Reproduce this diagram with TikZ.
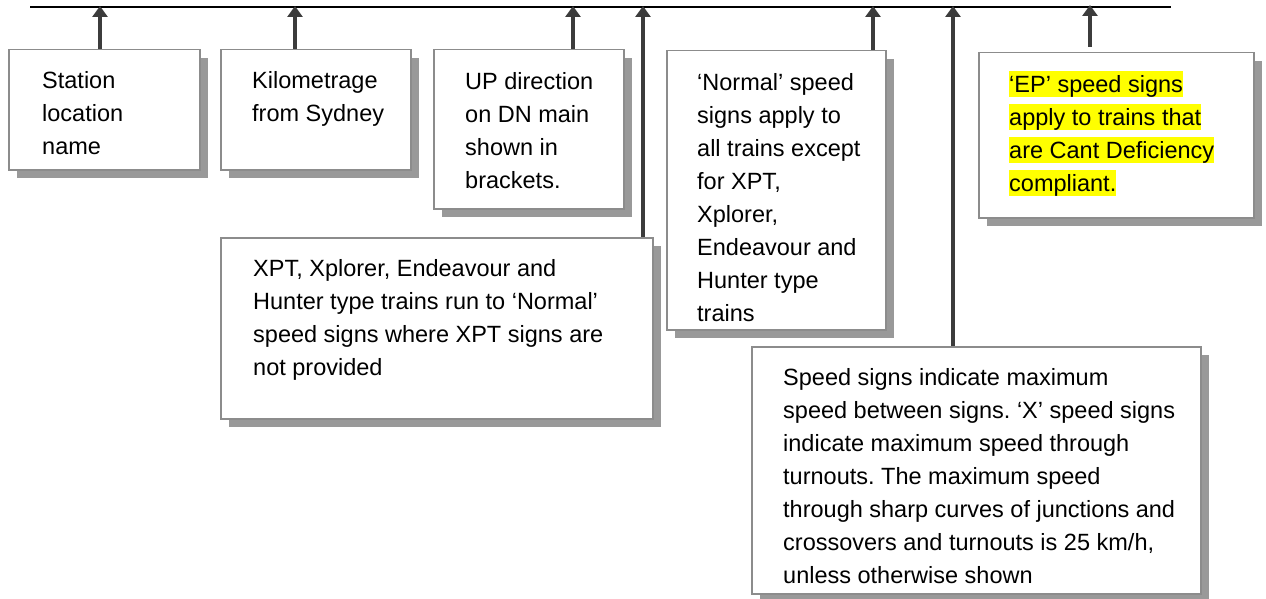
\documentclass[tikz,border=0pt]{standalone}
\usepackage{fontspec}
\setmainfont{Liberation Sans}
\usetikzlibrary{arrows.meta,shadows}
\definecolor{boxline}{HTML}{8C8C8C}
\definecolor{shadowgray}{HTML}{999999}
\definecolor{arrowgray}{HTML}{3C3C3C}
\definecolor{hlyellow}{HTML}{FFFF00}
\newcommand\firstl{\rule{0pt}{21.5pt}}
\newcommand\hlline[1]{{\setlength{\fboxsep}{0pt}\colorbox{hlyellow}{\rule[-5pt]{0pt}{26.5pt}#1}}}
\frenchspacing
\begin{document}
\begin{tikzpicture}[x=1pt,y=-1pt,
  box/.style={draw=boxline, line width=1.5pt, fill=white, rectangle, inner sep=0pt, anchor=north west,
    drop shadow={shadow xshift=8pt, shadow yshift=-8pt, fill=shadowgray, opacity=1}},
  txt/.style={anchor=north west, inner sep=0pt, align=left, font=\fontsize{23.5}{33}\selectfont\frenchspacing},
  arr/.style={draw=arrowgray, line width=4pt, -{Triangle[width=15pt,length=11pt]}},
  rail/.style={draw=black, line width=2pt}]
\useasboundingbox (0,0) rectangle (1266,599);
% boxes
\node[box, minimum width=191pt, minimum height=120pt] (b1) at (8,49) {};
\node[box, minimum width=190pt, minimum height=120pt] (b2) at (220,49) {};
\node[box, minimum width=190pt, minimum height=159pt] (b3) at (433,49) {};
\node[box, minimum width=219pt, minimum height=279pt] (b4) at (666,50) {};
\node[box, minimum width=275pt, minimum height=165pt] (b5) at (978,52) {};
\node[box, minimum width=432pt, minimum height=181pt] (b6) at (220,237) {};
\node[box, minimum width=449pt, minimum height=247pt] (b7) at (751,346) {};
% texts
\node[txt] (tx1) at (42,66.5) {\firstl Station\\location\\name};
\node[txt] (tx2) at (252,66.5) {\firstl Kilometrage\\from Sydney};
\node[txt] (tx3) at (465,67.5) {\firstl UP direction\\on DN main\\shown in\\brackets.};
\node[txt] (tx4) at (697,68.5) {\firstl ‘Normal’ speed\\signs apply to\\all trains except\\for XPT,\\Xplorer,\\Endeavour and\\Hunter type\\trains};
\node[txt] (tx5) at (1009,70.5) {\hlline{‘EP’ speed signs}\\\hlline{apply to trains that}\\\hlline{are Cant Deficiency}\\\hlline{compliant.}};
\node[txt] (tx6) at (253,254.5) {\firstl XPT, Xplorer, Endeavour and\\Hunter type trains run to ‘Normal’\\speed signs where XPT signs are\\not provided};
\node[txt] (tx7) at (783,363.5) {\firstl Speed signs indicate maximum\\speed between signs. ‘X’ speed signs\\indicate maximum speed through\\turnouts. The maximum speed\\through sharp curves of junctions and\\crossovers and turnouts is 25 km/h,\\unless otherwise shown};
% rail
\coordinate (LL) at (30,7);
\coordinate (LR) at (1171,7);
\draw[rail] (LL) -- (LR);
% arrow tips on the rail
\coordinate (a1) at (100,6);
\coordinate (a2) at (295,6);
\coordinate (a3) at (573,6);
\coordinate (a4) at (643,6);
\coordinate (a5) at (873,6);
\coordinate (a6) at (953,6);
\coordinate (a7) at (1090,5);
\draw[arr] (b1.north -| a1) -- (a1);
\draw[arr] (b2.north -| a2) -- (a2);
\draw[arr] (b3.north -| a3) -- (a3);
\draw[arr] (b6.north -| a4) -- (a4);
\draw[arr] (b4.north -| a5) -- (a5);
\draw[arr] (b7.north -| a6) -- (a6);
\draw[arr, shorten <=5pt] (b5.north -| a7) -- (a7);
\end{tikzpicture}
\end{document}
